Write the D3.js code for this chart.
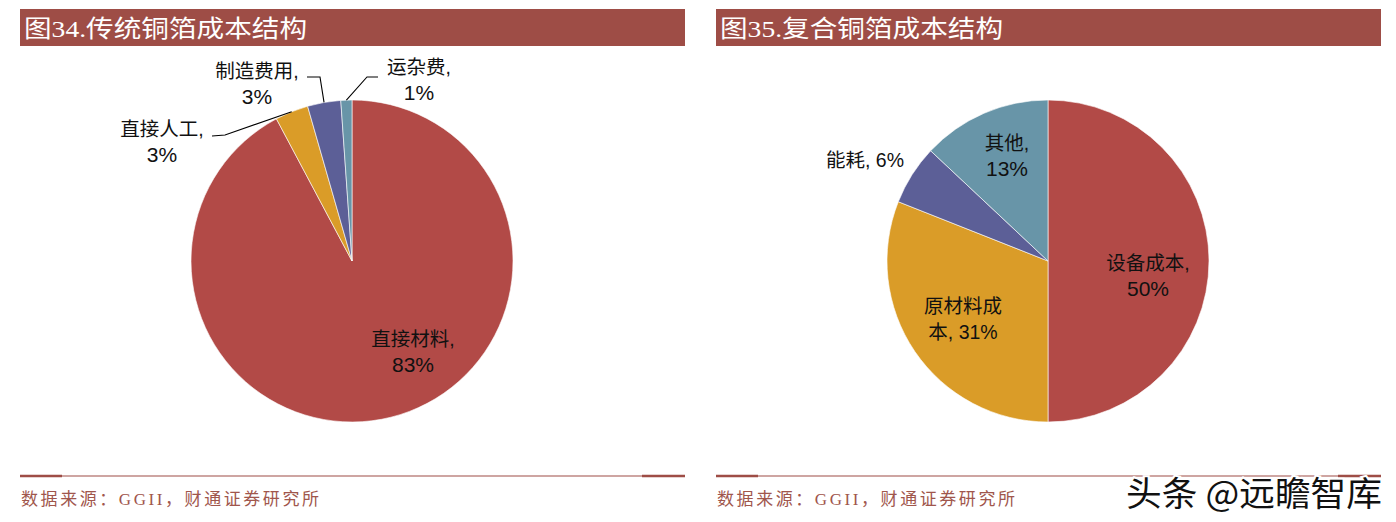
<!DOCTYPE html>
<html><head><meta charset="utf-8">
<script src="https://cdn.jsdelivr.net/npm/d3@7"></script>
<style>
html,body{margin:0;padding:0;background:#fff;}
svg{display:block;}
</style></head>
<body>
<svg id="c" width="1396" height="522"></svg>
<script>
// ---- data ----
const titles = ["图34.传统铜箔成本结构", "图35.复合铜箔成本结构"];
const source = "数据来源：GGII，财通证券研究所";
const leftCats = ["直接材料", "直接人工", "制造费用", "运杂费"];
const leftVals = [83, 3, 3, 1];
const rightCats = ["设备成本", "原材料成本", "能耗", "其他"];
const rightVals = [50, 31, 6, 13];
const colors = ["#B24A47", "#DA9C28", "#5C5F97", "#6895A8"];
const watermark = "头条 @远瞻智库";

// ---- layout ----
const svg = d3.select("#c");
const barColor = "#9E4D46";
const panels = [
  {x0: 20, x1: 685, cx: 352, cy: 261, r: 161, cats: leftCats, vals: leftVals,
   labels: [
     {lines: ["直接材料,", "83%"], dx: 61, dy: 85},
     {lines: ["直接人工,", "3%"], dx: -190, dy: -125, leader: [[-127, -126], [-140, -125]]},
     {lines: ["制造费用,", "3%"], dx: -95, dy: -183, leader: [[-32, -184], [-45, -184]]},
     {lines: ["运杂费,", "1%"], dx: 67, dy: -187, leader: [[15, -184], [26, -184]]}
   ]},
  {x0: 716, x1: 1381, cx: 1048, cy: 261, r: 161, cats: rightCats, vals: rightVals,
   labels: [
     {lines: ["设备成本,", "50%"], dx: 100, dy: 9},
     {lines: ["原材料成", "本, 31%"], dx: -85, dy: 52},
     {lines: ["能耗, 6%"], dx: -183, dy: -94},
     {lines: ["其他,", "13%"], dx: -41, dy: -111}
   ]}
];

panels.forEach((p, pi) => {
  const g = svg.append("g");
  // title bar
  g.append("rect").attr("x", p.x0).attr("y", 9).attr("width", p.x1 - p.x0).attr("height", 37).attr("fill", barColor);
  g.append("text").attr("x", p.x0 + 4).attr("y", 37)
    .attr("font-family", "'Liberation Serif','Noto Sans CJK SC',serif")
    .attr("font-size", 24).attr("fill", "#fff")
    .attr("textLength", 283).attr("lengthAdjust", "spacingAndGlyphs")
    .text(titles[pi]);

  // pie
  const pie = d3.pie().sort(null).value(d => d)(p.vals);
  const arc = d3.arc().innerRadius(0).outerRadius(p.r);
  const pg = g.append("g").attr("transform", `translate(${p.cx},${p.cy})`);
  pg.selectAll("path").data(pie).join("path")
    .attr("d", arc).attr("fill", (d, i) => colors[i])
    .attr("stroke", "#fff").attr("stroke-width", 0.6);

  // labels
  p.labels.forEach((lb, i) => {
    const t = pg.append("text").attr("text-anchor", "middle")
      .attr("font-family", "'Liberation Sans','Noto Sans CJK SC',sans-serif")
      .attr("font-size", 20).attr("fill", "#111");
    lb.lines.forEach((ln, k) => {
      t.append("tspan").attr("x", lb.dx).attr("y", lb.dy + k * 25.5)
        .attr("font-size", /^[0-9%]/.test(ln) ? 21 : 19.5).text(ln);
    });
    if (lb.leader) {
      const a = (pie[i].startAngle + pie[i].endAngle) / 2;
      const s = [Math.sin(a) * p.r, -Math.cos(a) * p.r];
      pg.append("path").attr("fill", "none").attr("stroke", "#000").attr("stroke-width", 1.1)
        .attr("d", d3.line()([s, lb.leader[0], lb.leader[1]]));
    }
  });

  // bottom rule
  g.append("line").attr("x1", p.x0).attr("x2", p.x1).attr("y1", 476).attr("y2", 476)
    .attr("stroke", barColor).attr("stroke-width", 1.2);
  g.append("line").attr("x1", p.x0).attr("x2", p.x0 + 42).attr("y1", 476).attr("y2", 476)
    .attr("stroke", barColor).attr("stroke-width", 2.6);
  g.append("line").attr("x1", p.x1 - 43).attr("x2", p.x1).attr("y1", 476).attr("y2", 476)
    .attr("stroke", barColor).attr("stroke-width", 2.6);

  // source
  g.append("text").attr("x", p.x0 + 1).attr("y", 505)
    .attr("font-family", "'Liberation Serif','Noto Sans CJK SC',serif")
    .attr("font-size", 17).attr("fill", "#A0564C")
    .attr("textLength", 298).attr("lengthAdjust", "spacing")
    .text(source);
});

// watermark
svg.append("text").attr("x", 1126).attr("y", 506)
  .attr("font-family", "'Noto Sans CJK SC',sans-serif")
  .attr("font-size", 34).attr("fill", "#111")
  .attr("stroke", "#fff").attr("stroke-width", 4).attr("paint-order", "stroke")
  .attr("textLength", 256).attr("lengthAdjust", "spacingAndGlyphs")
  .text(watermark);
</script>
</body></html>
